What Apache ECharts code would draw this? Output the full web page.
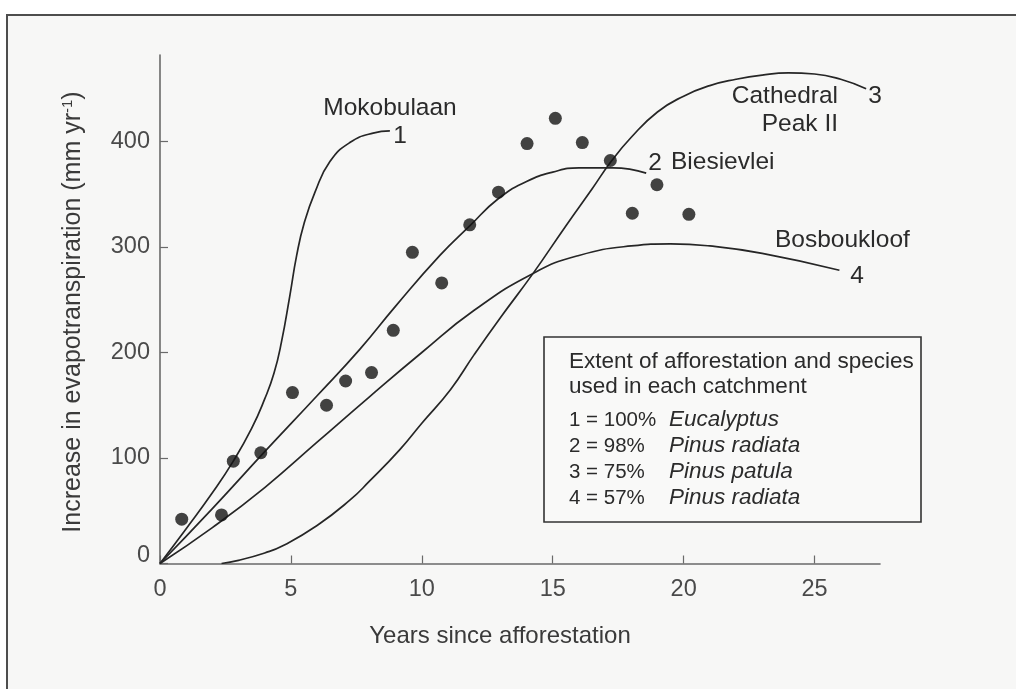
<!DOCTYPE html>
<html>
<head>
<meta charset="utf-8">
<title>Increase in evapotranspiration after afforestation</title>
<script src="https://cdn.jsdelivr.net/npm/echarts@6/dist/echarts.min.js"></script>
<style>
  html, body { margin: 0; padding: 0; background: #ffffff; }
  #chart { width: 1016px; height: 689px; }
</style>
</head>
<body>
<div id="chart"></div>
<script>
// Observed increases (Biesievlei catchment), years since planting vs mm/yr
const obsYears = [0.83, 2.35, 2.80, 3.85, 5.06, 6.36, 7.09, 8.08, 8.91, 9.64,
                  10.76, 11.83, 12.93, 14.02, 15.10, 16.13, 17.20, 18.04, 18.98, 20.20];
const obsIncrease = [42, 46, 97, 105, 162, 150, 173, 181, 221, 295,
                     266, 321, 352, 398, 422, 399, 382, 332, 359, 331];

// Fitted response curves for each catchment: [years, mm/yr]
const mokobulaan = [[0, 0], [1, 33], [2, 67], [2.8, 97], [3.5, 128], [4.0, 156], [4.35, 180],
                    [4.64, 210], [4.96, 254], [5.22, 292], [5.5, 322], [5.92, 352], [6.49, 381],
                    [7.25, 399], [8.14, 408], [8.78, 410]];
const biesievlei = [[0, 0], [2, 52], [4, 106], [6, 159], [7.63, 203], [9, 244], [10.69, 292],
                    [11.83, 320], [12.93, 346], [14, 362], [15, 371], [16, 375], [17.3, 375], [18.57, 370]];
const cathedralPeak = [[2.35, 0], [3, 3], [4, 10], [4.71, 17], [6, 36], [7.25, 60], [8, 78],
                       [9.16, 108], [10, 133], [11.1, 165], [12, 198], [13, 233], [14.25, 275],
                       [15.5, 320], [16.5, 355], [17.23, 381], [18, 404], [19, 428], [20, 443],
                       [21, 453], [22, 459], [23, 463], [24, 465], [25, 464], [26, 459], [26.97, 450]];
const bosboukloof = [[0, 0], [2, 34], [4, 72], [6, 115], [8, 158], [10, 200], [12, 240],
                     [14.25, 275], [16, 292], [18, 301], [19.5, 303], [21, 301], [23, 294], [25.95, 278]];

const xTicks = [0, 5, 10, 15, 20, 25];
const yTicks = [0, 100, 200, 300, 400];

const legendTitle = ['Extent of afforestation and species', 'used in each catchment'];
const legendShares = ['1 = 100%', '2 = 98%', '3 = 75%', '4 = 57%'];
const legendSpecies = ['Eucalyptus', 'Pinus radiata', 'Pinus patula', 'Pinus radiata'];

const FONT = '"Liberation Sans", Arial, Helvetica, sans-serif';
const INK = '#2b2b2b';
const AXIS = '#6a6a6a';

const chart = echarts.init(document.getElementById('chart'), null, { renderer: 'canvas' });

function curveSeries(name, data) {
  return {
    name: name,
    type: 'line',
    data: data,
    showSymbol: false,
    smooth: 0.5,
    silent: true,
    z: 3,
    lineStyle: { color: '#262626', width: 1.7 }
  };
}

function txt(x, y, text, style) {
  return {
    type: 'text', x: x, y: y, z: 20, silent: true,
    style: Object.assign({
      text: text, fill: INK, font: '24.5px ' + FONT,
      textAlign: 'center', textVerticalAlign: 'middle'
    }, style || {})
  };
}

const legendFont = '22.5px ' + FONT;
const shareFont = '20.5px ' + FONT;
const legendRows = [];
legendTitle.forEach((t, i) => {
  legendRows.push(txt(569, 362 + i * 25, t, { textAlign: 'left', font: legendFont }));
});
legendShares.forEach((t, i) => {
  legendRows.push(txt(569, 420 + i * 26, t, { textAlign: 'left', font: shareFont }));
  legendRows.push(txt(669, 420 + i * 26, legendSpecies[i], { textAlign: 'left', font: 'italic ' + legendFont }));
});

chart.setOption({
  animation: false,
  backgroundColor: '#ffffff',
  grid: { left: 160, right: 136, top: 55, bottom: 125.5, containLabel: false },
  xAxis: {
    type: 'value', min: 0, max: 27.5,
    axisLine: { lineStyle: { color: AXIS, width: 1.6 } },
    axisTick: { inside: true, length: 8, customValues: xTicks, lineStyle: { color: AXIS, width: 1.2 } },
    axisLabel: { customValues: xTicks, margin: 14, color: '#4a4a4a', fontSize: 23.5, fontFamily: FONT },
    splitLine: { show: false }
  },
  yAxis: {
    type: 'value', min: 0, max: 482,
    axisLine: { show: true, lineStyle: { color: AXIS, width: 1.6 } },
    axisTick: { show: true, inside: true, length: 8, customValues: yTicks, lineStyle: { color: AXIS, width: 1.2 } },
    axisLabel: {
      customValues: yTicks, margin: 10, color: '#4a4a4a', fontSize: 23.5, fontFamily: FONT,
      formatter: v => (v === 0 ? '{z|0}' : String(v)),
      rich: { z: { fontSize: 23.5, fontFamily: FONT, color: '#4a4a4a', padding: [0, 0, 16, 0] } }
    },
    splitLine: { show: false }
  },
  series: [
    curveSeries('Mokobulaan', mokobulaan),
    curveSeries('Biesievlei', biesievlei),
    curveSeries('Cathedral Peak II', cathedralPeak),
    curveSeries('Bosboukloof', bosboukloof),
    {
      name: 'Observed',
      type: 'scatter',
      data: obsYears.map((t, i) => [t, obsIncrease[i]]),
      symbol: 'circle',
      symbolSize: 13,
      z: 4,
      itemStyle: { color: '#141414' }
    }
  ],
  graphic: [
    // outer frame of the figure
    { type: 'rect', z: -10, silent: true,
      shape: { x: 7, y: 15, width: 1030, height: 700 },
      style: { fill: '#f7f7f6', stroke: '#4d4d4d', lineWidth: 2 } },
    // key box
    { type: 'rect', z: 10, silent: true,
      shape: { x: 544, y: 337, width: 377, height: 185 },
      style: { fill: '#f9f9f8', stroke: '#333333', lineWidth: 1.6 } },
    ...legendRows,
    // axis titles
    txt(500, 636, 'Years since afforestation', { fill: '#3a3a3a', font: '24px ' + FONT }),
    { type: 'text', x: 73, y: 312, rotation: Math.PI / 2, z: 20, silent: true,
      style: {
        text: 'Increase in evapotranspiration (mm yr{sup|-1})',
        rich: { sup: { fontSize: 15, fontFamily: FONT, fill: '#3a3a3a', verticalAlign: 'top', padding: [0, 0, 10, 0] } },
        fill: '#3a3a3a', font: '25px ' + FONT, textAlign: 'center', textVerticalAlign: 'middle'
      } },
    // catchment names and curve numbers
    txt(390, 108, 'Mokobulaan'),
    txt(400, 136, '1'),
    txt(838, 96, 'Cathedral', { textAlign: 'right' }),
    txt(838, 124, 'Peak II', { textAlign: 'right' }),
    txt(875, 96, '3'),
    txt(655, 163, '2'),
    txt(671, 162, 'Biesievlei', { textAlign: 'left' }),
    txt(775, 240, 'Bosboukloof', { textAlign: 'left' }),
    txt(857, 276, '4')
  ]
});
</script>
</body>
</html>
